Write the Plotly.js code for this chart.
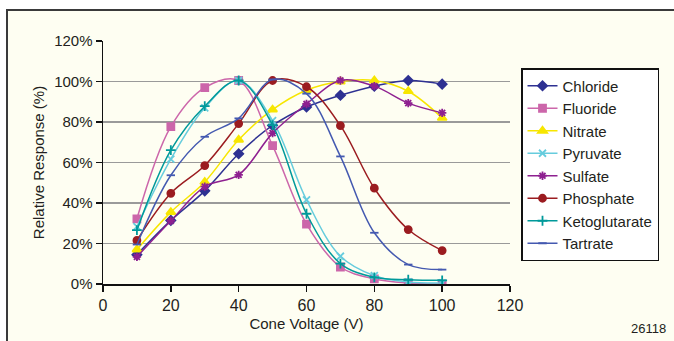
<!DOCTYPE html>
<html><head><meta charset="utf-8">
<script src="https://cdn.plot.ly/plotly-3.0.1.min.js"></script>
<style>
html,body{margin:0;padding:0;background:#fff;}
#frame{position:absolute;left:6px;top:9px;width:700px;height:400px;border-left:2px solid #3a3a3a;border-top:2px solid #3a3a3a;background:#fefef2;}
#chart{position:absolute;left:0;top:0;width:674px;height:341px;}
</style></head>
<body>
<div id="frame"></div>
<div id="chart"></div>
<script>
const voltage = [10,20,30,40,50,60,70,80,90,100];
const chloride = [14.5,31.4,46,64.3,78.3,87.4,93.2,97.7,100.5,98.7];
const fluoride = [32.2,77.7,97,100.5,68.3,29.6,8.4,2.5,0.5,0];
const nitrate = [17,35.5,50.4,71.2,86.1,95.7,100,100.5,95.2,82];
const pyruvate = [28.3,61.7,87,100.5,80.7,41.5,13.7,4.1,1,0.5];
const sulfate = [13.4,31.2,48.1,53.9,74.5,88.9,100.5,97.7,89.3,84.5];
const phosphate = [21.5,44.8,58.5,79.2,100.5,97.4,78.2,47.3,26.9,16.5];
const ketoglutarate = [26.6,66.1,87.8,100.5,78.5,34.7,10.1,3.3,2.1,1.8];
const tartrate = [19.5,53.7,72.7,81.8,101,94,63,25.3,9.6,7.1];
const seriesNames = ["Chloride","Fluoride","Nitrate","Pyruvate","Sulfate","Phosphate","Ketoglutarate","Tartrate"];
const seriesData = [chloride,fluoride,nitrate,pyruvate,sulfate,phosphate,ketoglutarate,tartrate];
const colors = ["#2e3192","#cc66aa","#f7e600","#66ccdd","#8e2090","#9b1c20","#00999a","#4459b0"];
const symbols = ["diamond","square","triangle-up","x-thin-open","asterisk-open","circle","cross-thin-open","line-ew-open"];
const sizes = [7,7,8,7,7,7,7,6];
const xTicks = [0,20,40,60,80,100,120];
const yTicks = [0,20,40,60,80,100,120];

const traces = seriesNames.map((n,i)=>({
  x: voltage, y: seriesData[i], name: n, type:'scatter', mode:'lines+markers',
  line:{color:colors[i], width:1.5, shape:'spline', smoothing:1},
  marker:{symbol:symbols[i], color:colors[i], size:sizes[i], line:{color:colors[i], width:1.8}}
}));

const font = "'Liberation Sans', Arial, sans-serif";
const txt = '#231f20';
const layout = {
  width:674, height:341,
  margin:{l:103, r:164, t:41, b:57},
  paper_bgcolor:'rgba(0,0,0,0)', plot_bgcolor:'rgba(0,0,0,0)',
  font:{family:font, size:15, color:txt},
  showlegend:true,
  legend:{x:(521-103)/407, xanchor:'left', y:(284-68)/243, yanchor:'top', bgcolor:'#ffffff',
    bordercolor:'#111', borderwidth:1.5, font:{family:font,size:15,color:txt},
    itemwidth:30, tracegroupgap:0},
  xaxis:{range:[0,120], tickvals:xTicks, ticktext:xTicks.map(String), showgrid:false, zeroline:false,
    showline:true, linecolor:'#111', linewidth:1.5, ticks:'outside', ticklen:6, tickcolor:'#111', tickwidth:1.5,
    tickfont:{family:font,size:16,color:txt},
    title:{text:'Cone Voltage (V)', font:{family:font,size:15,color:txt}, standoff:6}},
  yaxis:{range:[0,120], tickvals:yTicks, ticktext:yTicks.map(v=>v+'%'), showgrid:true, gridcolor:'#9a9a9a', gridwidth:1.5,
    zeroline:false, showline:true, linecolor:'#111', linewidth:1.5, ticks:'outside', ticklen:6, tickcolor:'#111', tickwidth:1.5,
    tickfont:{family:font,size:15,color:txt},
    title:{text:'Relative Response (%)', font:{family:font,size:15,color:txt}, standoff:6}},
  annotations:[{text:'26118', xref:'paper', yref:'paper', x:(668-103)/407, y:(284-328)/243, xanchor:'right', yanchor:'middle',
    showarrow:false, font:{family:font,size:13,color:txt}}]
};
Plotly.newPlot('chart', traces, layout, {staticPlot:true});
</script>
</body></html>
